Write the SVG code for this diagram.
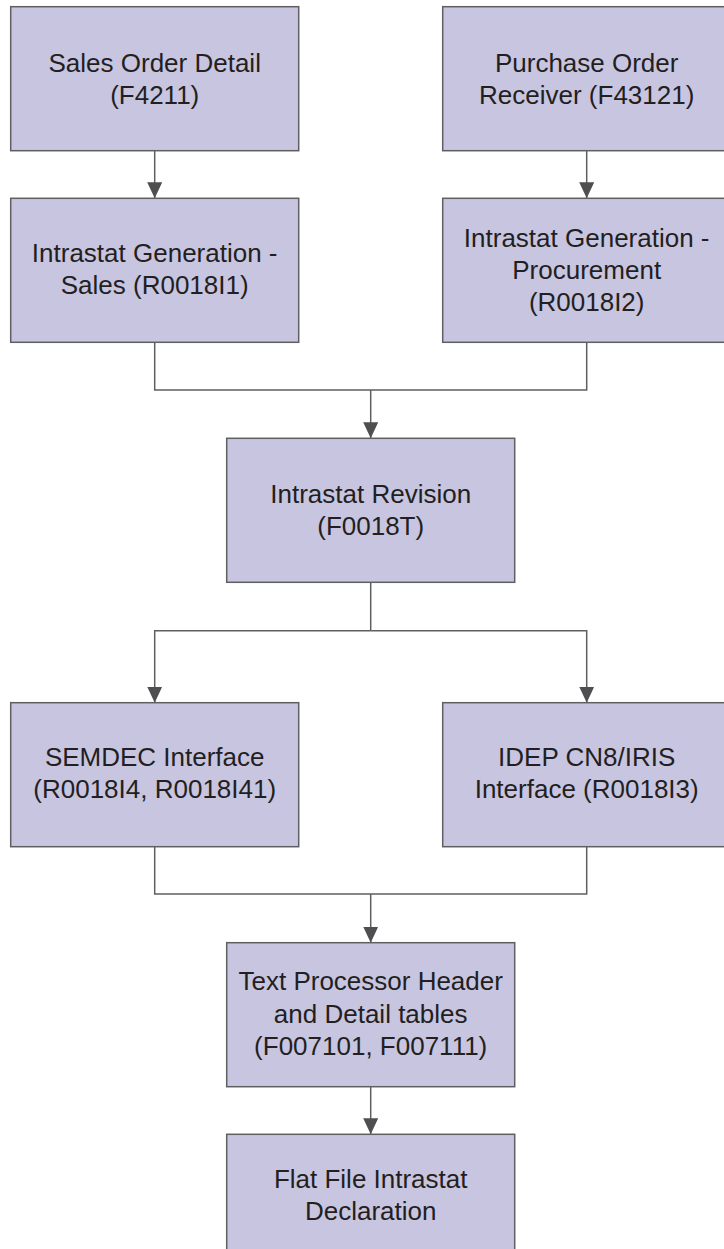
<svg xmlns="http://www.w3.org/2000/svg" width="724" height="1249" viewBox="0 0 724 1249">
<defs>
<style>
.box{fill:#c8c5e1;stroke:#5f5f61;stroke-width:1.5}
.lbl{font-family:"Liberation Sans",Arial,sans-serif;font-size:26px;fill:#231f20;text-anchor:middle}
.con{fill:none;stroke:#5f5f61;stroke-width:1.5}
</style>
<marker id="arr" markerUnits="userSpaceOnUse" markerWidth="16" markerHeight="17" refX="16" refY="8" orient="auto" viewBox="0 0 16 16">
<path d="M0,0.5 L16,8 L0,15.5 Z" fill="#4f4f51"/>
</marker>
</defs>
<rect width="724" height="1249" fill="#ffffff"/>
<g id="connectors">
<path class="con" d="M154.7,150.7 V198.3" marker-end="url(#arr)"/>
<path class="con" d="M586.7,150.7 V198.3" marker-end="url(#arr)"/>
<path class="con" d="M154.7,342.3 V390 H586.7 V342.3"/>
<path class="con" d="M370.7,390 V438.3" marker-end="url(#arr)"/>
<path class="con" d="M370.7,582.3 V630.7"/>
<path class="con" d="M370.7,630.7 H154.7 V702.7" marker-end="url(#arr)"/>
<path class="con" d="M370.7,630.7 H586.7 V702.7" marker-end="url(#arr)"/>
<path class="con" d="M154.7,846.7 V894 H586.7 V846.7"/>
<path class="con" d="M370.7,894 V942.7" marker-end="url(#arr)"/>
<path class="con" d="M370.7,1086.7 V1134.3" marker-end="url(#arr)"/>
</g>
<g id="sales-order-detail">
<rect class="box" x="10.7" y="6.7" width="288" height="144"/>
<text class="lbl" x="154.7" y="71.7">Sales Order Detail</text>
<text class="lbl" x="154.7" y="103.7">(F4211)</text>
</g>
<g id="purchase-order-receiver">
<rect class="box" x="442.7" y="6.7" width="288" height="144"/>
<text class="lbl" x="586.7" y="71.7">Purchase Order</text>
<text class="lbl" x="586.7" y="103.7">Receiver (F43121)</text>
</g>
<g id="intrastat-gen-sales">
<rect class="box" x="10.7" y="198.3" width="288" height="144"/>
<text class="lbl" x="154.7" y="262">Intrastat Generation -</text>
<text class="lbl" x="154.7" y="294">Sales (R0018I1)</text>
</g>
<g id="intrastat-gen-procurement">
<rect class="box" x="442.7" y="198.3" width="288" height="144"/>
<text class="lbl" x="586.7" y="246.7">Intrastat Generation -</text>
<text class="lbl" x="586.7" y="279">Procurement</text>
<text class="lbl" x="586.7" y="311.3">(R0018I2)</text>
</g>
<g id="intrastat-revision">
<rect class="box" x="226.7" y="438.3" width="288" height="144"/>
<text class="lbl" x="370.7" y="503">Intrastat Revision</text>
<text class="lbl" x="370.7" y="535">(F0018T)</text>
</g>
<g id="semdec-interface">
<rect class="box" x="10.7" y="702.7" width="288" height="144"/>
<text class="lbl" x="154.7" y="766">SEMDEC Interface</text>
<text class="lbl" x="154.7" y="798">(R0018I4, R0018I41)</text>
</g>
<g id="idep-interface">
<rect class="box" x="442.7" y="702.7" width="288" height="144"/>
<text class="lbl" x="586.7" y="766">IDEP CN8/IRIS</text>
<text class="lbl" x="586.7" y="798">Interface (R0018I3)</text>
</g>
<g id="text-processor">
<rect class="box" x="226.7" y="942.7" width="288" height="144"/>
<text class="lbl" x="370.7" y="990">Text Processor Header</text>
<text class="lbl" x="370.7" y="1022.5">and Detail tables</text>
<text class="lbl" x="370.7" y="1055">(F007101, F007111)</text>
</g>
<g id="flat-file">
<rect class="box" x="226.7" y="1134.3" width="288" height="144"/>
<text class="lbl" x="370.7" y="1188">Flat File Intrastat</text>
<text class="lbl" x="370.7" y="1220">Declaration</text>
</g>
</svg>
